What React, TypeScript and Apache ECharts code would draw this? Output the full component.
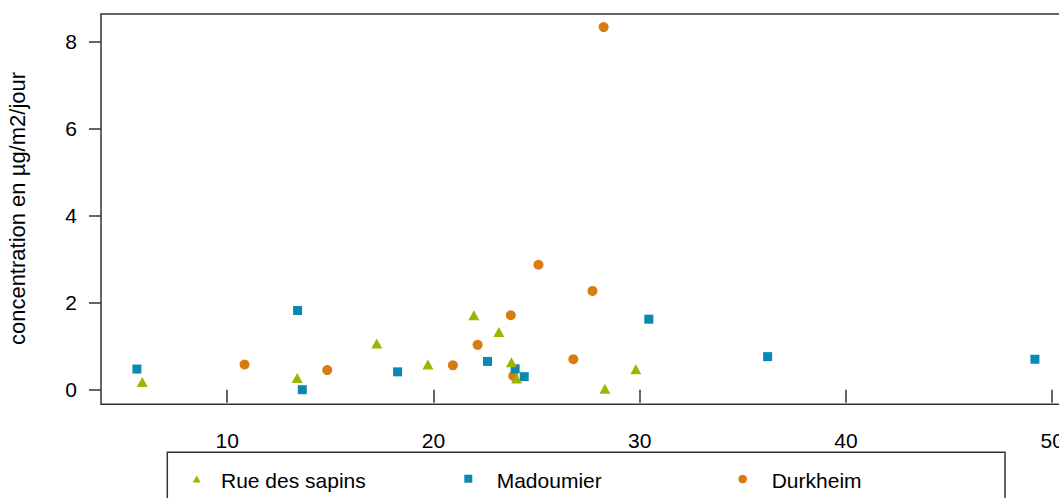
import React, { useEffect, useRef } from "react";
import * as echarts from "echarts";

const seriesNames = ["Rue des sapins", "Madoumier", "Durkheim"];
const rueX = [5.88, 13.39, 17.25, 19.73, 21.96, 23.17, 23.78, 24.03, 28.31, 29.81];
const rueY = [0.18, 0.27, 1.06, 0.58, 1.71, 1.325, 0.63, 0.26, 0.02, 0.47];
const madX = [5.62, 13.41, 13.64, 18.26, 22.62, 23.96, 24.4, 30.44, 36.2, 49.16];
const madY = [0.475, 1.82, 0.0, 0.41, 0.65, 0.48, 0.3, 1.62, 0.76, 0.7];
const durX = [10.84, 14.85, 20.94, 22.14, 23.75, 23.87, 25.09, 26.78, 27.71, 28.25];
const durY = [0.58, 0.45, 0.56, 1.03, 1.71, 0.315, 2.87, 0.7, 2.27, 8.33];
const xTicks = [10, 20, 30, 40, 50];
const yTicks = [0, 2, 4, 6, 8];
const yTitle = "concentration en µg/m2/jour";

const GREEN = "#9cb500";
const BLUE = "#0a88b4";
const ORANGE = "#d67c10";
const FONT = "'Liberation Sans', Arial, sans-serif";

function pairs(xs: number[], ys: number[]) {
  return xs.map((x, i) => [x, ys[i]]);
}

export default function App() {
  const ref = useRef<HTMLDivElement>(null);
  useEffect(() => {
    if (!ref.current) return;
    const chart = echarts.init(ref.current, undefined, { renderer: "svg" });
    const axisText = { color: "#000", fontSize: 21, fontFamily: FONT };
    chart.setOption({
      animation: false,
      backgroundColor: "#fff",
      grid: {
        left: 101,
        top: 14,
        width: 969.8,
        height: 390.3,
        show: true,
        borderColor: "#333",
        borderWidth: 1.5,
        containLabel: false,
        outerBoundsMode: "none",
      },
      xAxis: {
        type: "value",
        min: 3.88,
        max: 50.9,
        splitLine: { show: false },
        axisLine: { show: false },
        axisTick: {
          show: true,
          customValues: xTicks,
          length: 13,
          lineStyle: { color: "#333", width: 1.5 },
        },
        axisLabel: {
          customValues: xTicks,
          margin: 26,
          ...axisText,
          showMinLabel: true,
          showMaxLabel: true,
          hideOverlap: false,
        },
      },
      yAxis: {
        type: "value",
        min: -0.335,
        max: 8.63,
        splitLine: { show: false },
        axisLine: { show: false },
        axisTick: {
          show: true,
          customValues: yTicks,
          length: 12,
          lineStyle: { color: "#333", width: 1.5 },
        },
        axisLabel: {
          customValues: yTicks,
          margin: 24,
          ...axisText,
        },
      },
      series: [
        {
          name: seriesNames[2],
          type: "scatter",
          symbol: "circle",
          symbolSize: 10,
          itemStyle: { color: ORANGE, opacity: 1 },
          data: pairs(durX, durY),
        },
        {
          name: seriesNames[1],
          type: "scatter",
          symbol: "rect",
          symbolSize: 9,
          itemStyle: { color: BLUE, opacity: 1 },
          data: pairs(madX, madY),
        },
        {
          name: seriesNames[0],
          type: "scatter",
          symbol: "triangle",
          symbolSize: [11, 10],
          itemStyle: { color: GREEN, opacity: 1 },
          data: pairs(rueX, rueY),
        },
      ],
      graphic: [
        {
          type: "text",
          x: 17,
          y: 208.5,
          rotation: Math.PI / 2,
          style: {
            text: yTitle,
            font: `22px ${FONT}`,
            fill: "#000",
            textAlign: "center",
            textVerticalAlign: "middle",
          },
        },
        {
          type: "rect",
          shape: { x: 167.3, y: 452.3, width: 837.7, height: 80 },
          style: { fill: "none", stroke: "#333", lineWidth: 1.5 },
        },
        {
          type: "polygon",
          shape: { points: [[196.7, 475.5], [192.7, 482.5], [200.7, 482.5]] },
          style: { fill: GREEN },
        },
        {
          type: "text",
          x: 221,
          y: 480,
          style: { text: seriesNames[0], font: `21px ${FONT}`, fill: "#000", textVerticalAlign: "middle" },
        },
        {
          type: "rect",
          shape: { x: 464.3, y: 474.7, width: 8, height: 8 },
          style: { fill: BLUE },
        },
        {
          type: "text",
          x: 496.7,
          y: 480,
          style: { text: seriesNames[1], font: `21px ${FONT}`, fill: "#000", textVerticalAlign: "middle" },
        },
        {
          type: "circle",
          shape: { cx: 742.7, cy: 479, r: 4.3 },
          style: { fill: ORANGE },
        },
        {
          type: "text",
          x: 771.7,
          y: 480,
          style: { text: seriesNames[2], font: `21px ${FONT}`, fill: "#000", textVerticalAlign: "middle" },
        },
      ],
    });
    return () => chart.dispose();
  }, []);
  return (
    <div
      ref={ref}
      style={{ position: "fixed", left: 0, top: 0, width: 1059, height: 498, background: "#fff" }}
    />
  );
}
